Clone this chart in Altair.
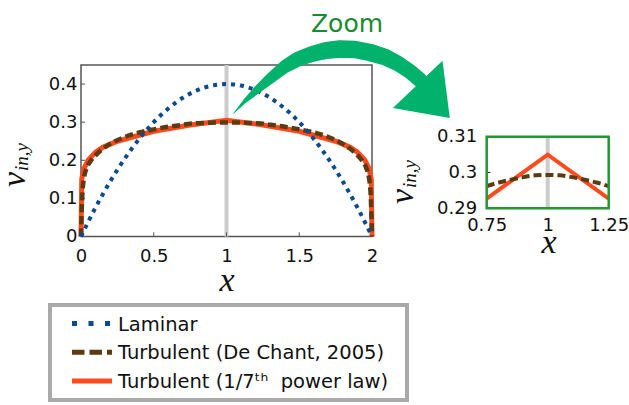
import altair as alt
import pandas as pd

# ---------------- data ----------------
lam_x = [0.0, 0.1, 0.2, 0.3, 0.4, 0.5, 0.6, 0.7, 0.8, 0.9, 1.0,
         1.1, 1.2, 1.3, 1.4, 1.5, 1.6, 1.7, 1.8, 1.9, 2.0]
lam_v = [0.0, 0.076, 0.144, 0.204, 0.256, 0.300, 0.336, 0.364, 0.384, 0.396, 0.400,
         0.396, 0.384, 0.364, 0.336, 0.300, 0.256, 0.204, 0.144, 0.076, 0.0]

dc_x = [0.0, 0.005, 0.01, 0.02, 0.04, 0.07, 0.1, 0.15, 0.2, 0.3, 0.4, 0.5, 0.6, 0.7,
        0.75, 0.8, 0.85, 0.9, 0.95, 1.0, 1.05, 1.1, 1.15, 1.2, 1.25, 1.3, 1.4, 1.5,
        1.6, 1.7, 1.8, 1.85, 1.9, 1.93, 1.96, 1.98, 1.99, 1.995, 2.0]
dc_v = [0.0, 0.07, 0.115, 0.152, 0.18, 0.2, 0.213, 0.23, 0.243, 0.261, 0.273, 0.281, 0.288, 0.293,
        0.2962, 0.2972, 0.298, 0.2987, 0.2992, 0.2993, 0.2992, 0.2987, 0.298, 0.2972, 0.2962, 0.293,
        0.288, 0.281, 0.273, 0.261, 0.243, 0.23, 0.213, 0.2, 0.18, 0.152, 0.115, 0.07, 0.0]

pow_x = [0.0, 0.005, 0.02, 0.05, 0.1, 0.15, 0.25, 0.5, 0.75, 1.0,
         1.25, 1.5, 1.75, 1.85, 1.9, 1.95, 1.98, 1.995, 2.0]
pow_v = [0.0, 0.15, 0.178, 0.201, 0.221, 0.234, 0.250, 0.276, 0.2927, 0.305,
         0.2927, 0.276, 0.250, 0.234, 0.221, 0.201, 0.178, 0.15, 0.0]

main_xticks = [0, 0.5, 1, 1.5, 2]
main_yticks = [0, 0.1, 0.2, 0.3, 0.4]
inset_xticks = [0.75, 1, 1.25]
inset_yticks = [0.29, 0.3, 0.31]

legend_labels = ["Laminar", "Turbulent (De Chant, 2005)", "Turbulent (1/7\u1d57\u02b0\u00a0 power law)"]
series_colors = ["#0b4a8f", "#5e3a12", "#ff4a1c"]

# zoom arrow (canvas pixels): centre line and width
arrow_x = [233.5, 245, 258, 272, 285, 298, 312, 326, 340, 355, 370, 385, 398, 410, 420]
arrow_y = [113.5, 101, 89, 77, 66.5, 59, 54, 50.5, 49, 49.5, 52.5, 57, 63.5, 71.5, 80]
arrow_w = [0.5, 4, 8, 11, 13, 15, 16, 17, 17.5, 17.5, 17.5, 16.5, 15.5, 15, 15]

# ---------------- frames ----------------
lam = pd.DataFrame({"x": lam_x, "v": lam_v})
dc = pd.DataFrame({"x": dc_x, "v": dc_v})
pw = pd.DataFrame({"x": pow_x, "v": pow_v})

FONT = "DejaVu Sans"
SERIF = "Liberation Serif"
GREEN_ARROW = "#00b26b"
GREEN_DARK = "#1a8a2e"
GREEN_FRAME = "#1f9a33"
FMT = ".3~g"

# ---------------- main panel ----------------
MX = alt.Scale(domain=[0, 2], range=[81, 372], nice=False, zero=False)
MY = alt.Scale(domain=[0, 0.45], range=[236.5, 65], nice=False, zero=False)

ax_mx = alt.Axis(values=main_xticks, format=FMT, orient="bottom", offset=-168.5,
                 domain=False, ticks=False, tickSize=0, grid=False, title=None,
                 labelFont=FONT, labelFontSize=18, labelColor="#111111",
                 labelPadding=11, labelFlush=False, labelOverlap=False)
ax_my = alt.Axis(values=main_yticks, format=FMT, orient="left", offset=-81,
                 domain=False, ticks=False, tickSize=0, grid=False, title=None,
                 labelFont=FONT, labelFontSize=18, labelColor="#111111",
                 labelPadding=4, labelFlush=False, labelOverlap=False)

frame_m = pd.DataFrame({"x0": [0], "x1": [2], "y0": [0], "y1": [0.45]})
m_frame = alt.Chart(frame_m).mark_rect(fillOpacity=0, stroke="#555555", strokeWidth=1.5).encode(
    x=alt.X("x0:Q", scale=MX, axis=ax_mx), x2="x1:Q",
    y=alt.Y("y0:Q", scale=MY, axis=ax_my), y2="y1:Q")

m_center = alt.Chart(pd.DataFrame({"x": [1], "y0": [0], "y1": [0.45]})).mark_rule(
    color="#cccccc", strokeWidth=4).encode(
    x=alt.X("x:Q", scale=MX, axis=ax_mx),
    y=alt.Y("y0:Q", scale=MY, axis=ax_my), y2="y1:Q")

xt = pd.DataFrame({"x": main_xticks[1:-1], "y0": [0] * 3, "y1": [0.011] * 3})
m_xticks = alt.Chart(xt).mark_rule(color="#555555", strokeWidth=1).encode(
    x=alt.X("x:Q", scale=MX, axis=ax_mx),
    y=alt.Y("y0:Q", scale=MY, axis=ax_my), y2="y1:Q")
yt = pd.DataFrame({"y": main_yticks[1:], "x0": [0] * 4, "x1": [0.028] * 4})
m_yticks = alt.Chart(yt).mark_rule(color="#555555", strokeWidth=1).encode(
    x=alt.X("x0:Q", scale=MX, axis=ax_mx), x2="x1:Q",
    y=alt.Y("y:Q", scale=MY, axis=ax_my))


def line(df, sx, sy, axx, axy, **kw):
    return alt.Chart(df).mark_line(**kw).encode(
        x=alt.X("x:Q", scale=sx, axis=axx),
        y=alt.Y("v:Q", scale=sy, axis=axy),
        order="x:Q")


m_pow = line(pw, MX, MY, ax_mx, ax_my, color=series_colors[2], strokeWidth=5)
m_dc = line(dc, MX, MY, ax_mx, ax_my, color=series_colors[1], strokeWidth=4.5,
            strokeDash=[8, 4], strokeCap="butt", interpolate="monotone")
m_lam = line(lam, MX, MY, ax_mx, ax_my, color=series_colors[0], strokeWidth=4,
             strokeDash=[4, 5], strokeCap="butt", interpolate="monotone")

main = alt.layer(m_frame, m_center, m_xticks, m_yticks, m_pow, m_dc, m_lam)

# ---------------- inset ----------------
IX = alt.Scale(domain=[0.75, 1.25], range=[486.7, 608.7], nice=False, zero=False)
IY = alt.Scale(domain=[0.29, 0.31], range=[208.3, 136.7], nice=False, zero=False)

ax_ix = alt.Axis(values=inset_xticks, format=FMT, orient="bottom", offset=-196.7,
                 domain=False, ticks=False, tickSize=0, grid=False, title=None,
                 labelFont=FONT, labelFontSize=18, labelColor="#111111",
                 labelPadding=8, labelFlush=False, labelOverlap=False)
ax_iy = alt.Axis(values=inset_yticks, format=FMT, orient="left", offset=-486.7,
                 domain=False, ticks=False, tickSize=0, grid=False, title=None,
                 labelFont=FONT, labelFontSize=18, labelColor="#111111",
                 labelPadding=10, labelFlush=False, labelOverlap=False)

in_rng = lambda d: d[(d["x"] >= 0.75) & (d["x"] <= 1.25)]

i_center = alt.Chart(pd.DataFrame({"x": [1], "y0": [0.29], "y1": [0.31]})).mark_rule(
    color="#cccccc", strokeWidth=4).encode(
    x=alt.X("x:Q", scale=IX, axis=ax_ix),
    y=alt.Y("y0:Q", scale=IY, axis=ax_iy), y2="y1:Q")
i_pow = line(in_rng(pw), IX, IY, ax_ix, ax_iy, color=series_colors[2], strokeWidth=4)
i_dc = line(in_rng(dc), IX, IY, ax_ix, ax_iy, color=series_colors[1], strokeWidth=4,
            strokeDash=[8, 4], strokeCap="butt", interpolate="monotone")
i_ticks = alt.Chart(pd.DataFrame({"y": [0.3], "x0": [0.75], "x1": [0.765]})).mark_rule(
    color="#333333", strokeWidth=1).encode(
    x=alt.X("x0:Q", scale=IX, axis=ax_ix), x2="x1:Q",
    y=alt.Y("y:Q", scale=IY, axis=ax_iy))
frame_i = pd.DataFrame({"x0": [0.75], "x1": [1.25], "y0": [0.29], "y1": [0.31]})
i_frame = alt.Chart(frame_i).mark_rect(fillOpacity=0, stroke=GREEN_FRAME, strokeWidth=2.5).encode(
    x=alt.X("x0:Q", scale=IX, axis=ax_ix), x2="x1:Q",
    y=alt.Y("y0:Q", scale=IY, axis=ax_iy), y2="y1:Q")

inset = alt.layer(i_center, i_pow, i_dc, i_ticks, i_frame)

# ---------------- arrow ----------------
CX = alt.Scale(domain=[0, 629], range=[0, 629], nice=False, zero=False)
CY = alt.Scale(domain=[0, 405], range=[0, 405], nice=False, zero=False)
arr = pd.DataFrame({"i": list(range(len(arrow_x))), "ax": arrow_x, "ay": arrow_y, "aw": arrow_w})
a_body = alt.Chart(arr).mark_trail(color=GREEN_ARROW).encode(
    x=alt.X("ax:Q", scale=CX, axis=None),
    y=alt.Y("ay:Q", scale=CY, axis=None),
    size=alt.Size("aw:Q", scale=None, legend=None),
    order="i:Q")
one = pd.DataFrame({"k": [0]})
a_head = alt.Chart(one).mark_point(
    shape="M-1,0.68L1,0.68L0,-0.68Z", filled=True, size=4692, angle=136.4,
    color=GREEN_ARROW, opacity=1, strokeWidth=0).encode(
    x=alt.value(433.75), y=alt.value(101.2))
arrow = alt.layer(a_body, a_head)


# ---------------- texts ----------------
def txt(s, x, y, **kw):
    return alt.Chart(one).mark_text(text=s, **kw).encode(x=alt.value(x), y=alt.value(y))


zoom_t = txt("Zoom", 347, 32, font=FONT, fontSize=25, color=GREEN_DARK, align="center", baseline="alphabetic")
tx_main = txt("x", 227, 291, font=SERIF, fontStyle="italic", fontSize=34, color="#111111",
              align="center", baseline="alphabetic")
tx_in = txt("x", 549, 253, font=SERIF, fontStyle="italic", fontSize=34, color="#111111",
            align="center", baseline="alphabetic")
tv_main = txt("v", 25, 187, font=SERIF, fontStyle="italic", fontSize=34, color="#111111",
              align="left", baseline="alphabetic", angle=270)
ts_main = txt("in,y", 28, 171, font=SERIF, fontStyle="italic", fontSize=19, color="#111111",
              align="left", baseline="alphabetic", angle=270)
tv_in = txt("v", 413, 204, font=SERIF, fontStyle="italic", fontSize=34, color="#111111",
            align="left", baseline="alphabetic", angle=270)
ts_in = txt("in,y", 416, 188, font=SERIF, fontStyle="italic", fontSize=19, color="#111111",
            align="left", baseline="alphabetic", angle=270)
texts = alt.layer(zoom_t, tx_main, tx_in, tv_main, ts_main, tv_in, ts_in)

# ---------------- legend ----------------
leg = pd.DataFrame({"label": legend_labels})
LY = alt.Scale(type="point", domain=legend_labels, range=[323.5, 381], padding=0)
l_box = alt.Chart(one).mark_rect(fill="white", stroke="#aaaaaa", strokeWidth=4).encode(
    x=alt.value(50), x2=alt.value(407), y=alt.value(305), y2=alt.value(400))
l_lines = alt.Chart(leg).mark_rule(strokeWidth=5, strokeCap="butt").encode(
    x=alt.value(72), x2=alt.value(112),
    y=alt.Y("label:N", scale=LY, axis=None),
    color=alt.Color("label:N", scale=alt.Scale(domain=legend_labels, range=series_colors), legend=None),
    strokeDash=alt.StrokeDash("label:N", scale=alt.Scale(domain=legend_labels,
                                                         range=[[5, 11.5], [12.5, 5], [1, 0]]),
                              legend=None))
l_text = alt.Chart(leg).mark_text(align="left", baseline="middle", font=FONT, fontSize=19.5,
                                  color="#111111", dy=1).encode(
    x=alt.value(118), y=alt.Y("label:N", scale=LY, axis=None), text="label:N")
legend = alt.layer(l_box, l_lines, l_text)

chart = alt.layer(main, inset, arrow, texts, legend).resolve_scale(
    x="independent", y="independent", color="independent", strokeDash="independent",
    size="independent"
).properties(
    width=629, height=405, padding=0, autosize=alt.AutoSizeParams(type="none"),
    background="white"
).configure_view(stroke=None)

chart.save("out.html", embed_options={"renderer": "svg", "actions": False})
